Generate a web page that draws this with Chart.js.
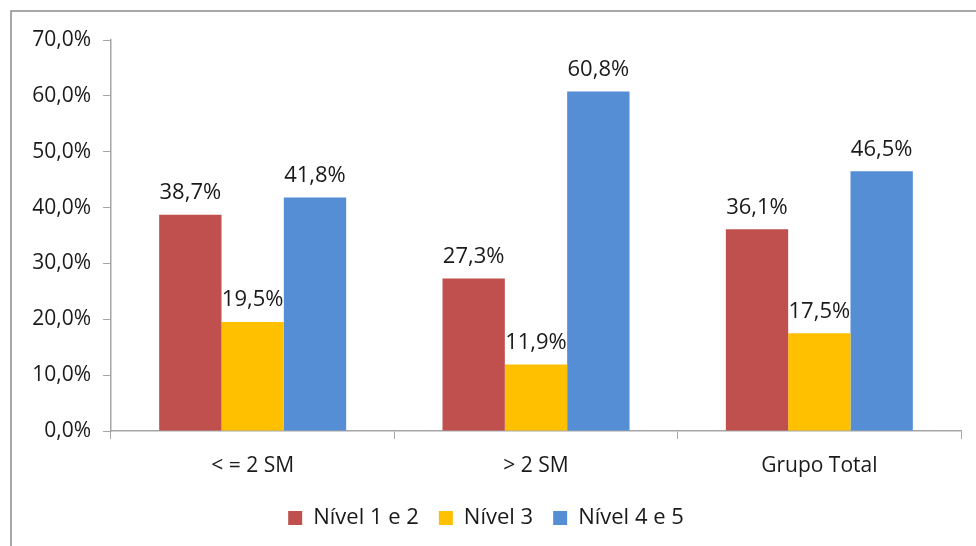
<!DOCTYPE html>
<html lang="pt">
<head>
    <meta charset="UTF-8">
    <title>Níveis por renda</title>
    <script src="https://cdn.jsdelivr.net/npm/chart.js"></script>
    <style>
        * { margin: 0; padding: 0; box-sizing: border-box; }
        body { background: #fff; width: 976px; height: 546px; overflow: hidden; }
        #wrap { position: relative; width: 976px; height: 546px; }
    </style>
</head>
<body>
    <div id="wrap"><canvas id="chart" width="976" height="546"></canvas></div>
    <script>
        // categories and series (values in %)
        const categories = ['< = 2 SM', '> 2 SM', 'Grupo Total'];
        const seriesNames = ['Nível 1 e 2', 'Nível 3', 'Nível 4 e 5'];
        const nivel12 = [38.7, 27.3, 36.1];
        const nivel3 = [19.5, 11.9, 17.5];
        const nivel45 = [41.8, 60.8, 46.5];
        const yTicks = [0, 10, 20, 30, 40, 50, 60, 70];

        const colors = ['#C0504D', '#FFC000', '#558ED5'];
        const axisGray = '#a6a6a6';
        const fontFam = "'Open Sans', sans-serif";

        function pct(v) {
            return v.toFixed(1).replace('.', ',') + '%';
        }

        // outer frame like the original picture
        const framePlugin = {
            id: 'frame',
            beforeDraw(chart) {
                const c = chart.ctx;
                c.save();
                c.fillStyle = '#fff';
                c.fillRect(0, 0, chart.width, chart.height);
                c.strokeStyle = '#8c8c8c';
                c.lineWidth = 1.5;
                c.beginPath();
                c.moveTo(11, chart.height);
                c.lineTo(11, 11);
                c.lineTo(chart.width, 11);
                c.stroke();
                c.restore();
            }
        };

        // value labels above each bar
        const labelPlugin = {
            id: 'barLabels',
            afterDatasetsDraw(chart) {
                const c = chart.ctx;
                c.save();
                c.font = '22px ' + fontFam;
                c.fillStyle = '#1a1a1a';
                c.textAlign = 'center';
                c.textBaseline = 'bottom';
                chart.data.datasets.forEach((ds, i) => {
                    chart.getDatasetMeta(i).data.forEach((bar, j) => {
                        c.fillText(pct(ds.data[j]), bar.x, bar.y - 11);
                    });
                });
                c.restore();
            }
        };

        const ctx = document.getElementById('chart').getContext('2d');
        new Chart(ctx, {
            type: 'bar',
            data: {
                labels: categories,
                datasets: [
                    { label: seriesNames[0], data: nivel12, backgroundColor: colors[0] },
                    { label: seriesNames[1], data: nivel3, backgroundColor: colors[1] },
                    { label: seriesNames[2], data: nivel45, backgroundColor: colors[2] }
                ]
            },
            options: {
                responsive: false,
                animation: false,
                devicePixelRatio: 1,
                layout: { padding: { left: 11, right: 15, top: 40, bottom: 7 } },
                datasets: {
                    bar: { barPercentage: 1, categoryPercentage: 0.66 }
                },
                scales: {
                    y: {
                        min: 0,
                        max: 70,
                        afterBuildTicks(axis) {
                            axis.ticks = yTicks.map(v => ({ value: v }));
                        },
                        afterFit(axis) { axis.width = 100; },
                        ticks: {
                            color: '#1a1a1a',
                            font: { family: fontFam, size: 21 },
                            padding: 12,
                            callback: v => pct(v)
                        },
                        grid: {
                            drawOnChartArea: false,
                            drawTicks: true,
                            tickLength: 8,
                            color: axisGray
                        },
                        border: { color: axisGray, width: 1.5 }
                    },
                    x: {
                        afterFit(axis) { axis.height = 56; },
                        ticks: {
                            color: '#1a1a1a',
                            font: { family: fontFam, size: 21 },
                            padding: 14
                        },
                        grid: {
                            offset: true,
                            drawOnChartArea: false,
                            drawTicks: true,
                            tickLength: 8,
                            color: axisGray
                        },
                        border: { color: axisGray, width: 1.5 }
                    }
                },
                plugins: {
                    legend: {
                        position: 'bottom',
                        labels: {
                            color: '#1a1a1a',
                            font: { family: fontFam, size: 22 },
                            boxWidth: 14,
                            boxHeight: 14,
                            padding: 20
                        }
                    },
                    tooltip: { enabled: false }
                }
            },
            plugins: [framePlugin, labelPlugin]
        });
    </script>
</body>
</html>
